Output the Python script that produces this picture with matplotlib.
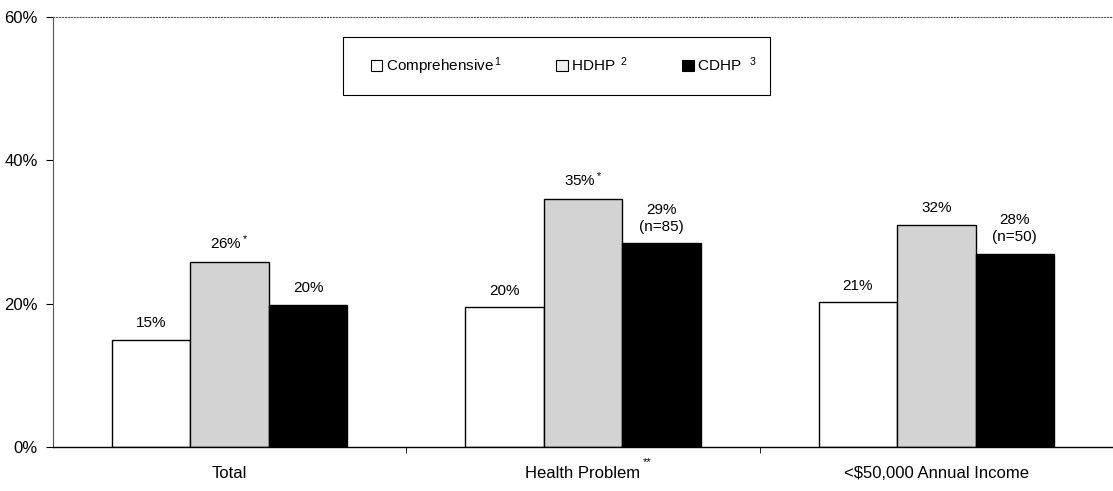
import matplotlib
matplotlib.use("Agg")
import matplotlib.pyplot as plt
import numpy as np
from matplotlib.patches import Patch, Rectangle

plt.rcParams['font.family'] = ['Liberation Sans', 'DejaVu Sans']
plt.rcParams['mathtext.fontset'] = 'custom'
plt.rcParams['mathtext.rm'] = 'Liberation Sans'
plt.rcParams['mathtext.it'] = 'Liberation Sans'

categories = ["Total", "Health Problem", "<$50,000 Annual Income"]
category_marks = ["", "**", ""]
series_names = ["Comprehensive", "HDHP", "CDHP"]
legend_labels = ["Comprehensive$^{\\,1}$", "HDHP$^{\\ \\ 2}$", "CDHP$^{\\ \\ \\ 3}$"]
comprehensive = [15.0, 19.5, 20.2]
hdhp = [25.8, 34.6, 31.0]
cdhp = [19.8, 28.4, 27.0]
comp_labels = ["15%", "20%", "21%"]
hdhp_labels = ["26%$^*$", "35%$^*$", "32%"]
cdhp_labels = ["20%", "29%\n(n=85)", "28%\n(n=50)"]
yticks = [0, 20, 40, 60]
ytick_labels = ["0%", "20%", "40%", "60%"]

FS = 11
AFS = 12

fig = plt.figure(figsize=(11.13, 4.91), dpi=100)
ax = fig.add_axes([53/1113, 1 - 447/491, 1 - 53/1113, 430/491])

x = np.arange(len(categories))
w = 0.222
colors = ['white', '#d3d3d3', 'black']
series = [comprehensive, hdhp, cdhp]
labels = [comp_labels, hdhp_labels, cdhp_labels]
for i, (vals, col, labs) in enumerate(zip(series, colors, labels)):
    pos = x + (i - 1) * w
    ax.bar(pos, vals, width=w, color=col, edgecolor='black', linewidth=1.0, zorder=2)
    for p, v, t in zip(pos, vals, labs):
        ax.annotate(t, (p, v), xytext=(0, 7), textcoords='offset points',
                    ha='center', va='bottom', fontsize=FS, linespacing=1.25)

ax.set_ylim(0, 60)
ax.set_xlim(-0.5, 2.5)
ax.set_yticks(yticks)
ax.set_yticklabels(ytick_labels, fontsize=AFS)
ax.set_xticks(x)
ax.set_xticklabels(categories, fontsize=AFS)
ax.tick_params(axis='x', length=0, pad=14)
ax.set_xticks([0.5, 1.5], minor=True)
ax.tick_params(axis='x', which='minor', length=4, direction='out')
ax.tick_params(axis='y', length=5, direction='out', pad=6)

ax.spines['right'].set_visible(False)
ax.spines['top'].set_linestyle(':')
ax.spines['top'].set_color('#555555')
ax.spines['top'].set_linewidth(0.8)
ax.spines['left'].set_color('#555555')
ax.spines['left'].set_linewidth(0.8)
ax.spines['bottom'].set_linewidth(1.0)

# superscript marks on category labels
fig.canvas.draw()
renderer = fig.canvas.get_renderer()
for lab, mark in zip(ax.get_xticklabels(), category_marks):
    if mark:
        bb = lab.get_window_extent(renderer)
        fig.text((bb.x1 + 2) / fig.bbox.width, (bb.y1 - 1) / fig.bbox.height, mark,
                 fontsize=8, ha='left', va='bottom')

# legend: frame drawn separately, entries placed inside
x0 = (343 - 53) / 1060
wl = (770 - 343) / 1060
ytop = 1 - (37 - 17) / 430
hl = (95 - 37) / 430
ax.add_patch(Rectangle((x0, ytop - hl), wl, hl, transform=ax.transAxes,
                       facecolor='white', edgecolor='black', linewidth=0.8,
                       zorder=4, clip_on=False))
handles = [Patch(facecolor=c, edgecolor='black', linewidth=0.8) for c in ['white', '#eeeeee', 'black']]
leg = ax.legend(handles, legend_labels, ncol=3, loc='center left',
                bbox_to_anchor=((371 - 53) / 1060, ytop - hl / 2),
                fontsize=FS, frameon=False,
                handlelength=0.75, handleheight=0.75,
                handletextpad=0.2, columnspacing=3.6, borderpad=0,
                borderaxespad=0)
leg.set_zorder(5)

fig.savefig("out.png", dpi=100)
